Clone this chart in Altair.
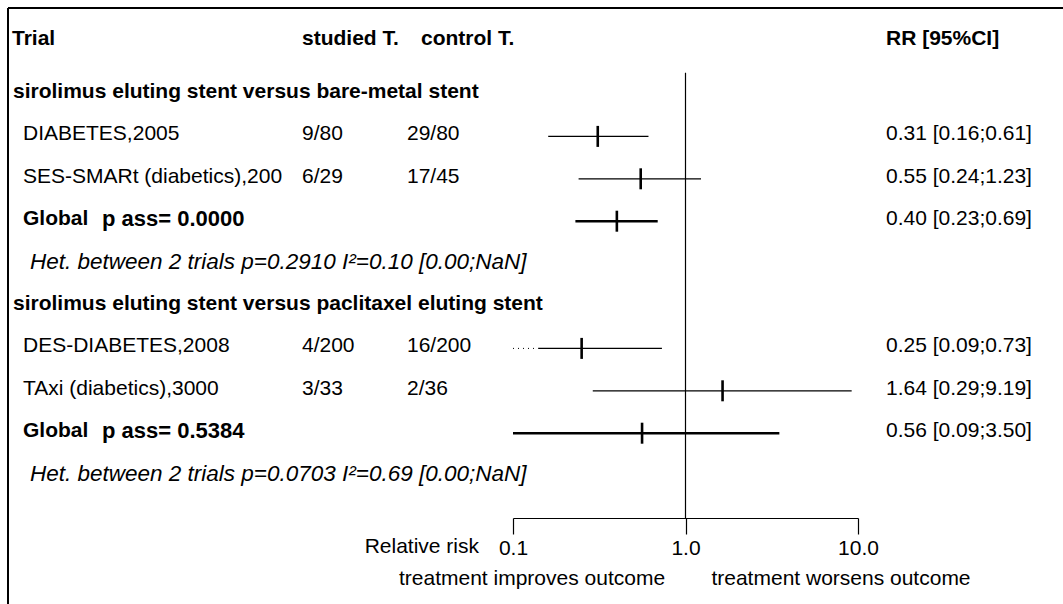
import altair as alt
import pandas as pd

# ---------------- data ----------------
group_titles = ["sirolimus eluting stent versus bare-metal stent",
                "sirolimus eluting stent versus paclitaxel eluting stent"]
trial_names = ["DIABETES,2005", "SES-SMARt (diabetics),200",
               "DES-DIABETES,2008", "TAxi (diabetics),3000"]
trial_group = [0, 0, 1, 1]
studied_t = ["9/80", "6/29", "4/200", "3/33"]
control_t = ["29/80", "17/45", "16/200", "2/36"]
trial_rr = [0.31, 0.55, 0.25, 1.64]
trial_lo = [0.16, 0.24, 0.09, 0.29]
trial_hi = [0.61, 1.23, 0.73, 9.19]
dotted_until = [None, None, 0.14, None]   # lower CI below the axis: dotted stub

global_rr = [0.40, 0.56]
global_lo = [0.23, 0.09]
global_hi = [0.69, 3.50]
global_p = ["0.0000", "0.5384"]
het_n = [2, 2]
het_p = ["0.2910", "0.0703"]
het_i2 = ["0.10", "0.69"]
het_ci = ["[0.00;NaN]", "[0.00;NaN]"]

axis_ticks = [0.1, 1.0, 10.0]
x_limit = 0.1

# ---------------- tables ----------------
def fmt_ci(r, l, h):
    return f"{r:.2f} [{l:.2f};{h:.2f}]"

trials_rows = []
counter = {0: 0, 1: 0}
for i, name in enumerate(trial_names):
    g = trial_group[i]
    counter[g] += 1
    lo_draw = max(trial_lo[i], x_limit)
    if dotted_until[i] is not None:
        lo_draw = dotted_until[i]
    trials_rows.append(dict(name=name, studied=studied_t[i], control=control_t[i],
                            rr=trial_rr[i], lo=lo_draw, hi=trial_hi[i],
                            dot_from=x_limit if dotted_until[i] is not None else None,
                            dot_to=dotted_until[i],
                            ci=fmt_ci(trial_rr[i], trial_lo[i], trial_hi[i]),
                            row=5 * g + counter[g]))
trials = pd.DataFrame(trials_rows)
dotted = trials.dropna(subset=["dot_to"])

glob = pd.DataFrame(dict(
    rr=global_rr, lo=[max(v, x_limit) for v in global_lo], hi=global_hi,
    label=["Global"] * 2,
    p=[f"p ass= {p}" for p in global_p],
    ci=[fmt_ci(r, l, h) for r, l, h in zip(global_rr, global_lo, global_hi)],
    row=[5 * g + 3 for g in range(2)]))

het = pd.DataFrame(dict(
    text=[f"Het. between {n} trials p={p} I\u00b2={i2} {ci}"
          for n, p, i2, ci in zip(het_n, het_p, het_i2, het_ci)],
    row=[5 * g + 4 for g in range(2)]))

groups = pd.DataFrame(dict(text=group_titles, row=[5 * g for g in range(2)]))

header_row = -1.25
header = pd.DataFrame(dict(trial=["Trial"], studied=["studied T."],
                           control=["control T."], rr=["RR [95%CI]"], row=[header_row]))

# ---------------- scales & helpers ----------------
FONT = "Liberation Sans"
FS = 21
x_scale = alt.Scale(type="log", domain=[0.1, 10], range=[513, 858], nice=False)
y_scale = alt.Scale(domain=[0, 10], range=[94, 518], nice=False, zero=False)
x_axis = alt.Axis(values=axis_ticks, format=".1f", tickSize=16, labelFontSize=FS,
                  labelFont=FONT, labelColor="black", domainColor="black",
                  tickColor="black", grid=False, title=None, labelPadding=3,
                  labelFlush=False, labelOverlap=False, domainWidth=1.2, tickWidth=1.2)


def X(field):
    return alt.X(f"{field}:Q", scale=x_scale, axis=x_axis)


def Y(field="row"):
    return alt.Y(f"{field}:Q", scale=y_scale, axis=None)


def text_layer(df, field, x, **kw):
    style = dict(align="left", baseline="middle", font=FONT, fontSize=FS,
                 color="black", dy=-2)
    style.update(kw)
    return alt.Chart(df).mark_text(**style).encode(
        x=alt.value(x), y=Y(), text=f"{field}:N")


one = pd.DataFrame({"k": [0]})

layers = []

# frame
layers.append(alt.Chart(one).mark_rule(color="black", strokeWidth=2).encode(
    x=alt.value(8), x2=alt.value(1063), y=alt.value(8)))
layers.append(alt.Chart(one).mark_rule(color="black", strokeWidth=2).encode(
    x=alt.value(8), y=alt.value(8), y2=alt.value(604)))

# reference line at RR = 1
layers.append(alt.Chart(one).mark_rule(color="black", strokeWidth=1.2).encode(
    x=alt.X(datum=1.0, scale=x_scale, axis=x_axis),
    y=alt.Y(datum=-0.5, scale=y_scale, axis=None), y2=alt.datum(10)))

# confidence intervals
layers.append(alt.Chart(trials).mark_rule(color="black", strokeWidth=1.2).encode(
    x=X("lo"), x2="hi:Q", y=Y()))
layers.append(alt.Chart(dotted).mark_rule(color="black", strokeWidth=1,
                                           strokeDash=[1, 4]).encode(
    x=X("dot_from"), x2="dot_to:Q", y=Y()))
layers.append(alt.Chart(glob).mark_rule(color="black", strokeWidth=2.4).encode(
    x=X("lo"), x2="hi:Q", y=Y()))
# point estimates
layers.append(alt.Chart(trials).mark_tick(orient="vertical", color="black",
                                          size=21, thickness=2.6, opacity=1).encode(
    x=X("rr"), y=Y()))
layers.append(alt.Chart(glob).mark_tick(orient="vertical", color="black",
                                        size=21, thickness=2.6, opacity=1).encode(
    x=X("rr"), y=Y()))

# header
layers.append(text_layer(header, "trial", 12, fontWeight="bold"))
layers.append(text_layer(header, "studied", 302, fontWeight="bold"))
layers.append(text_layer(header, "control", 421, fontWeight="bold"))
layers.append(text_layer(header, "rr", 886, fontWeight="bold"))

# group titles
layers.append(text_layer(groups, "text", 13, fontWeight="bold"))

# trial rows
layers.append(text_layer(trials, "name", 23))
layers.append(text_layer(trials, "studied", 302))
layers.append(text_layer(trials, "control", 407))
layers.append(text_layer(trials, "ci", 886))

# global rows
layers.append(text_layer(glob, "label", 23, fontWeight="bold"))
layers.append(text_layer(glob, "p", 102, fontWeight="bold", fontSize=22))
layers.append(text_layer(glob, "ci", 886))

# heterogeneity
layers.append(text_layer(het, "text", 30, fontStyle="italic", fontSize=22.5))

# bottom annotations
bottom = pd.DataFrame(dict(a=["Relative risk"], b=["treatment improves outcome"],
                           c=["treatment worsens outcome"]))
base_txt = dict(font=FONT, fontSize=FS, color="black", baseline="middle")
layers.append(alt.Chart(bottom).mark_text(align="right", **base_txt).encode(
    x=alt.value(479), y=alt.value(547), text="a:N"))
layers.append(alt.Chart(bottom).mark_text(align="center", **base_txt).encode(
    x=alt.value(532), y=alt.value(579), text="b:N"))
layers.append(alt.Chart(bottom).mark_text(align="center", **base_txt).encode(
    x=alt.value(841), y=alt.value(579), text="c:N"))

chart = alt.layer(*layers).properties(
    width=1063, height=518,
    autosize=alt.AutoSizeParams(type="none"),
    padding={"left": 0, "top": 0, "right": 0, "bottom": 86},
    background="white",
).configure_view(stroke=None)

chart.save("out.html", embed_options={"renderer": "svg", "actions": False})
